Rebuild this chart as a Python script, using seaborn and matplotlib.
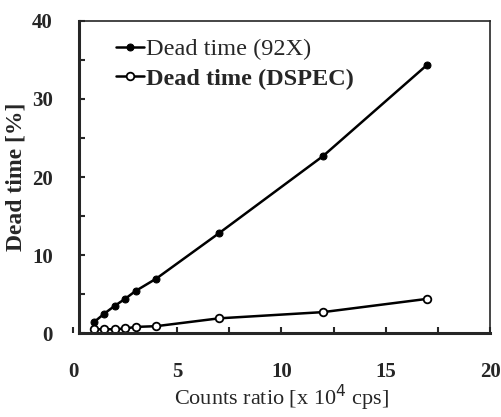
import matplotlib.pyplot as plt
import seaborn as sns
import pandas as pd
import numpy as np
from matplotlib.ticker import MultipleLocator

# Count rate (x 10^4 cps) and dead time (%)
rate = [1, 1.5, 2, 2.5, 3, 4, 7, 12, 17]
dead_92x = [1.4, 2.5, 3.5, 4.4, 5.4, 7.0, 12.8, 22.7, 34.4]
dead_dspec = [0.5, 0.5, 0.5, 0.6, 0.8, 0.9, 1.9, 2.7, 4.4]

df = pd.DataFrame({'rate': rate + rate,
                   'dead': dead_92x + dead_dspec,
                   'series': ['Dead time (92X)'] * len(rate) + ['Dead time (DSPEC)'] * len(rate)})

sns.set_style('ticks')
plt.rcParams['font.family'] = ['Liberation Serif', 'DejaVu Serif']

fig = plt.figure(figsize=(5.02, 4.17), dpi=100)
ax = fig.add_axes([0.1454, 0.201, 0.8307, 0.749])

sns.lineplot(data=df[df['series'] == 'Dead time (92X)'], x='rate', y='dead', ax=ax,
             color='black', lw=1.8, marker='o', markersize=5, markerfacecolor='black',
             markeredgecolor='black', label='Dead time (92X)')
sns.lineplot(data=df[df['series'] == 'Dead time (DSPEC)'], x='rate', y='dead', ax=ax,
             color='black', lw=1.8, marker='o', markersize=5.5, markerfacecolor='white',
             markeredgecolor='black', markeredgewidth=1.3, label='Dead time (DSPEC)')

ax.set_xlim(0, 20)
ax.set_ylim(0, 40)
ax.spines['left'].set_position(('data', 0.3))
ax.spines['bottom'].set_bounds(0.3, 20)
ax.spines['top'].set_bounds(0.3, 20)
ax.xaxis.set_major_locator(MultipleLocator(5))
ax.xaxis.set_minor_locator(MultipleLocator(2.5))
ax.yaxis.set_major_locator(MultipleLocator(10))
ax.yaxis.set_minor_locator(MultipleLocator(5))
ax.tick_params(axis='both', which='both', direction='in', length=4, width=1.5)
ax.tick_params(axis='x', which='major', pad=21, labelsize=15)
ax.tick_params(axis='y', which='major', pad=19, labelsize=15)
for lab in ax.get_xticklabels() + ax.get_yticklabels():
    lab.set_fontweight('bold')

for s in ['left', 'bottom']:
    ax.spines[s].set_linewidth(2.2)
for s in ['top', 'right']:
    ax.spines[s].set_linewidth(1.2)

ax.set_xlabel(r'Counts ratio [x 10$^4$ cps]', fontsize=16, labelpad=0)
ax.set_ylabel('Dead time [%]', fontsize=17, fontweight='semibold', labelpad=4)

leg = ax.legend(loc='upper left', frameon=False, fontsize=17.5, handlelength=1.15,
                handletextpad=0.1, borderaxespad=0.0, labelspacing=0.3,
                bbox_to_anchor=(0.08, 0.975))
leg.get_texts()[1].set_fontweight('bold')

plt.savefig('out.png', dpi=100)
plt.close()
